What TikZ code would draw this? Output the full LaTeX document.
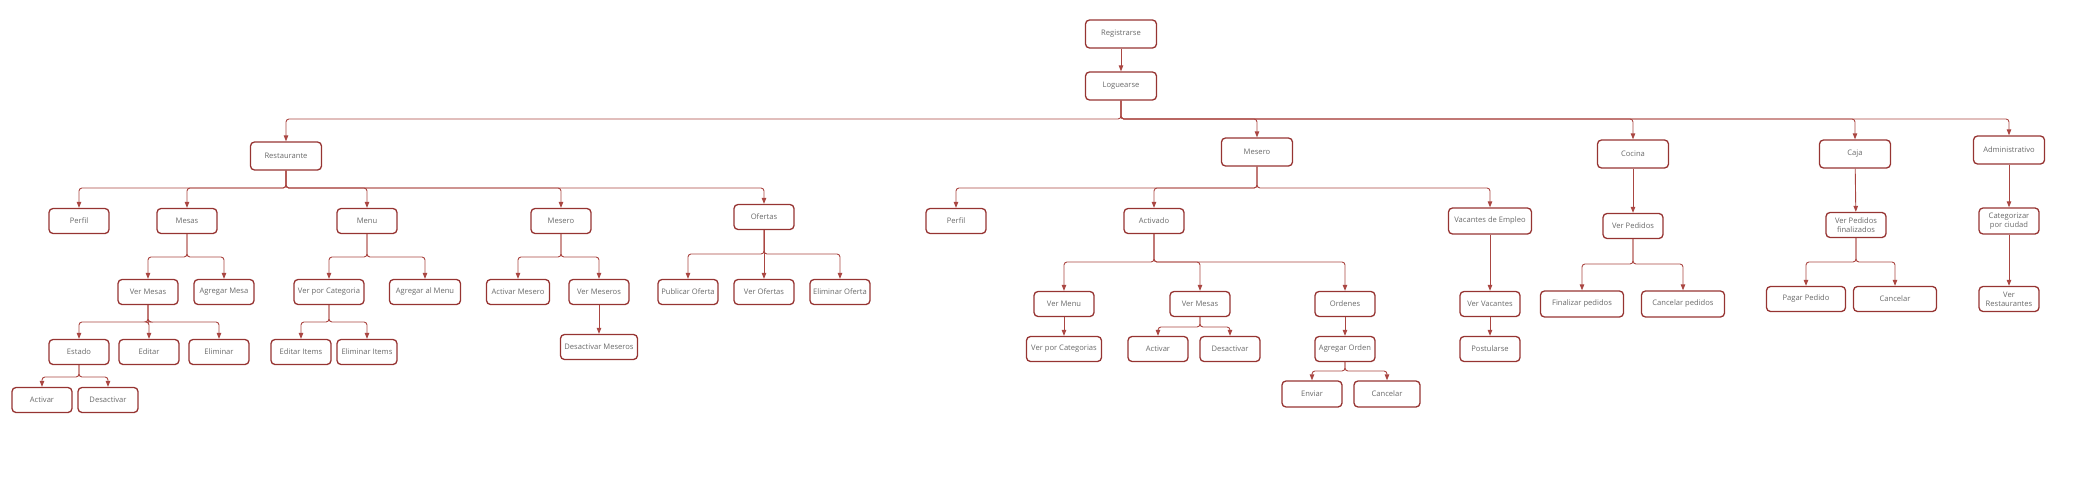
\documentclass[tikz,border=0pt]{standalone}
\usepackage{fontspec}
\setsansfont{Open Sans}
\usetikzlibrary{arrows.meta}
\definecolor{boxred}{RGB}{150,52,50}
\definecolor{linkred}{RGB}{170,70,66}
\definecolor{txtgray}{RGB}{105,105,105}

\begin{document}
\begin{tikzpicture}[x=1pt,y=-1pt,
	box/.style={draw=boxred,line width=1.3pt,rounded corners=4pt,minimum width=60pt,minimum height=25pt,inner sep=1pt,align=center,text=txtgray,font=\sffamily\fontsize{7.6}{9}\selectfont},
	big/.style={box,minimum width=71pt,minimum height=28pt},
	link/.style={draw=linkred,line width=0.9pt,rounded corners=3pt,-{Triangle[length=6pt,width=4.5pt]}}]

	\useasboundingbox (0,0) rectangle (2073,482);

	% top
	\node[big] (reg) at (1121,34) {Registrarse};
	\node[big] (log) at (1121,86) {Loguearse};

	% roles
	\node[big] (rest) at (286,156) {Restaurante};
	\node[big] (mes) at (1257,152) {Mesero};
	\node[big] (coc) at (1633,154) {Cocina};
	\node[big] (caja) at (1855,154) {Caja};
	\node[big] (adm) at (2009,150) {Administrativo};

	% restaurante
	\node[box] (rperfil) at (79,221) {Perfil};
	\node[box] (rmesas) at (187,221) {Mesas};
	\node[box] (rmenu) at (367,221) {Menu};
	\node[box] (rmesero) at (561,221) {Mesero};
	\node[box] (rofer) at (764,217) {Ofertas};
	\node[box] (vmesas) at (148,292) {Ver Mesas};
	\node[box] (amesa) at (224,292) {Agregar Mesa};
	\node[box] (estado) at (79,352) {Estado};
	\node[box] (editar) at (149,352) {Editar};
	\node[box] (elim) at (219,352) {Eliminar};
	\node[box] (eact) at (42,400) {Activar};
	\node[box] (edes) at (108,400) {Desactivar};
	\node[box,minimum width=70pt] (vcat) at (329,292) {Ver por Categoria};
	\node[box,minimum width=71pt] (amenu) at (425,292) {Agregar al Menu};
	\node[box] (editems) at (301,352) {Editar Items};
	\node[box] (elitems) at (367,352) {Eliminar Items};
	\node[box,minimum width=63pt] (actmes) at (518,292) {Activar Mesero};
	\node[box] (vmeseros) at (599,292) {Ver Meseros};
	\node[box,minimum width=77pt] (desmes) at (599,347) {Desactivar Meseros};
	\node[box] (pubof) at (688,292) {Publicar Oferta};
	\node[box] (verof) at (764,292) {Ver Ofertas};
	\node[box] (elimof) at (840,292) {Eliminar Oferta};

	% mesero
	\node[box] (mperfil) at (956,221) {Perfil};
	\node[box] (activ) at (1154,221) {Activado};
	\node[box,minimum width=83pt,minimum height=26pt] (vacan) at (1490,221) {Vacantes de Empleo};
	\node[box] (vmenu) at (1064,304) {Ver Menu};
	\node[box] (mvmesas) at (1200,304) {Ver Mesas};
	\node[box] (orden) at (1345,304) {Ordenes};
	\node[box,minimum width=75pt] (vcats) at (1064,349) {Ver por Categorias};
	\node[box] (mact) at (1158,349) {Activar};
	\node[box] (mdes) at (1230,349) {Desactivar};
	\node[box] (agord) at (1345,349) {Agregar Orden};
	\node[box,minimum height=26pt] (enviar) at (1312,394) {Enviar};
	\node[box,minimum width=66pt,minimum height=26pt] (cancel) at (1387,394) {Cancelar};
	\node[box] (vvacan) at (1490,304) {Ver Vacantes};
	\node[box] (post) at (1490,349) {Postularse};

	% cocina
	\node[box] (vped) at (1633,226) {Ver Pedidos};
	\node[box,minimum width=83pt,minimum height=26pt] (finped) at (1582,304) {Finalizar pedidos};
	\node[box,minimum width=83pt,minimum height=26pt] (canped) at (1683,304) {Cancelar pedidos};

	% caja
	\node[box] (vpedfin) at (1856,225) {Ver Pedidos\\finalizados};
	\node[box,minimum width=79pt] (pagar) at (1806,299) {Pagar Pedido};
	\node[box,minimum width=83pt] (ccancel) at (1895,299) {Cancelar};

	% administrativo
	\node[box,minimum height=26pt] (categ) at (2009,221) {Categorizar\\por ciudad};
	\node[box] (vrest) at (2009,299) {Ver\\Restaurantes};

	% links
	\draw[link] (reg) -- (log);
	\foreach \c in {rest,mes,coc,caja,adm}
		\draw[link] (log.south) -- (log.south |- 0,119) -| (\c.north);

	\foreach \c in {rperfil,rmesas,rmenu,rmesero,rofer}
		\draw[link] (rest.south) -- (rest.south |- 0,188) -| (\c.north);
	\foreach \c in {vmesas,amesa}
		\draw[link] (rmesas.south) -- (rmesas.south |- 0,257) -| (\c.north);
	\foreach \c in {estado,editar,elim}
		\draw[link] (vmesas.south) -- (vmesas.south |- 0,322) -| (\c.north);
	\foreach \c in {eact,edes}
		\draw[link] (estado.south) -- (estado.south |- 0,377) -| (\c.north);
	\foreach \c in {vcat,amenu}
		\draw[link] (rmenu.south) -- (rmenu.south |- 0,257) -| (\c.north);
	\foreach \c in {editems,elitems}
		\draw[link] (vcat.south) -- (vcat.south |- 0,322) -| (\c.north);
	\foreach \c in {actmes,vmeseros}
		\draw[link] (rmesero.south) -- (rmesero.south |- 0,257) -| (\c.north);
	\draw[link] (vmeseros) -- (desmes);
	\foreach \c in {pubof,elimof}
		\draw[link] (rofer.south) -- (rofer.south |- 0,254) -| (\c.north);
	\draw[link] (rofer) -- (verof);

	\foreach \c in {mperfil,activ,vacan}
		\draw[link] (mes.south) -- (mes.south |- 0,188) -| (\c.north);
	\foreach \c in {vmenu,mvmesas,orden}
		\draw[link] (activ.south) -- (activ.south |- 0,262) -| (\c.north);
	\draw[link] (vmenu) -- (vcats);
	\foreach \c in {mact,mdes}
		\draw[link] (mvmesas.south) -- (mvmesas.south |- 0,327) -| (\c.north);
	\draw[link] (orden) -- (agord);
	\foreach \c in {enviar,cancel}
		\draw[link] (agord.south) -- (agord.south |- 0,371) -| (\c.north);
	\draw[link] (vacan) -- (vvacan);
	\draw[link] (vvacan) -- (post);

	\draw[link] (coc) -- (vped);
	\foreach \c in {finped,canped}
		\draw[link] (vped.south) -- (vped.south |- 0,264) -| (\c.north);
	\draw[link] (caja) -- (vpedfin);
	\foreach \c in {pagar,ccancel}
		\draw[link] (vpedfin.south) -- (vpedfin.south |- 0,262) -| (\c.north);
	\draw[link] (adm) -- (categ);
	\draw[link] (categ) -- (vrest);

\end{tikzpicture}
\end{document}
